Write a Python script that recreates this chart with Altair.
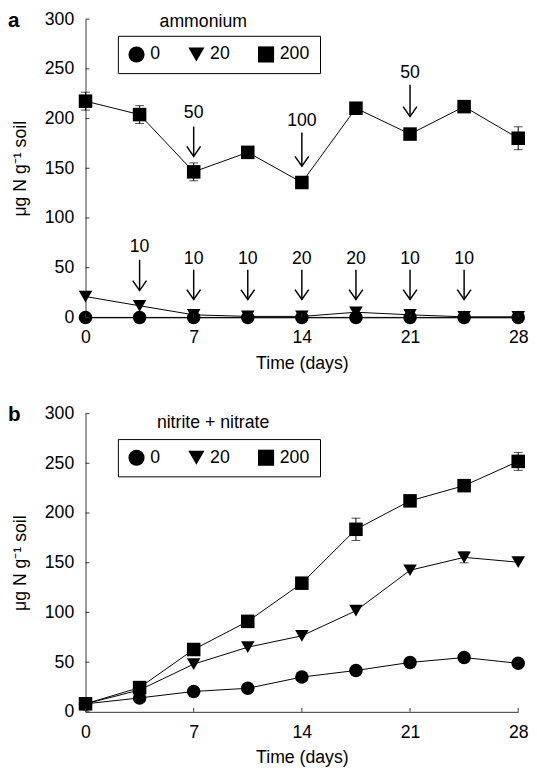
import altair as alt
import pandas as pd

# ---------------- data ----------------
days = [0, 3.5, 7, 10.5, 14, 17.5, 21, 24.5, 28]
treatments = ["0", "20", "200"]
x_ticks = [0, 7, 14, 21, 28]
y_ticks = [0, 50, 100, 150, 200, 250, 300]

# panel a: ammonium
amm_0 = [0, 0, 0, 0, 0, 0, 0, 0, 0]
amm_20 = [21, 11.7, 2.6, 1.0, 1.0, 5.2, 2.6, 0.6, 0.6]
amm_200 = [217.5, 204, 146.4, 166, 135.7, 210.4, 184.4, 212, 180.2]
amm_0_err = [0, 0, 0, 0, 0, 0, 0, 0, 0]
amm_20_err = [0, 0, 0, 0, 0, 0, 0, 0, 0]
amm_200_err = [9, 9, 9, 0, 0, 0, 0, 0, 11.5]

# panel b: nitrite + nitrate
nox_0 = [8, 14, 20.5, 23.7, 35, 41.6, 49.7, 54.6, 48.8]
nox_20 = [8, 22, 48, 65, 76.5, 101.7, 142.4, 155.4, 150.5]
nox_200 = [8.1, 24.4, 62.7, 91, 129.4, 183.6, 212.2, 227.5, 251.9]
nox_0_err = [0, 0, 0, 0, 0, 0, 0, 0, 0]
nox_20_err = [0, 0, 0, 0, 0, 0, 0, 5.5, 0]
nox_200_err = [0, 0, 0, 0, 0, 11.2, 0, 0, 9]

# ammonium additions (arrows in panel a)
arrow_days = [3.5, 7, 10.5, 14, 17.5, 21, 24.5, 7, 14, 21]
arrow_labels = ["10", "10", "10", "20", "20", "10", "10", "50", "100", "50"]
arrow_text = [71, 59, 59, 59, 59, 59, 59, 206, 197, 246]
arrow_top = [58, 48, 48, 48, 48, 48, 48, 192, 186, 234]
arrow_tip = [27, 18, 18, 18, 18, 18, 18, 162, 152, 202]

# ---------------- chart ----------------
FONT = "Liberation Sans"
W, H = 441, 304
Y_TITLE = "\u03bcg N g\u207b\u00b9 soil"
ARROW_HEAD = "M-1,-1.45L0,0L1,-1.45"


def X(field):
    return alt.X(field, type="quantitative",
                 scale=alt.Scale(domain=[0, 28], nice=False, zero=False),
                 axis=alt.Axis(values=x_ticks, title="Time (days)", labelFlush=False))


def Y(field):
    return alt.Y(field, type="quantitative",
                 scale=alt.Scale(domain=[0, 300], nice=False),
                 axis=alt.Axis(values=y_ticks, title=Y_TITLE, labelFlush=False))


def panel(series, errors, legend_title, letter, lx, ly, tx, ty, arrows=False):
    rows, erows, crows = [], [], []
    for t, vals, errs in zip(treatments, series, errors):
        for d, v, e in zip(days, vals, errs):
            rows.append({"day": d, "value": v, "treatment": t})
            if e > 0:
                erows.append({"day": d, "value": v - e, "value2": v + e})
                crows.append({"day": d, "value": v - e})
                crows.append({"day": d, "value": v + e})
    df = pd.DataFrame(rows)
    edf = pd.DataFrame(erows)
    cdf = pd.DataFrame(crows)

    base = alt.Chart(df)
    line = base.mark_line(color="black", strokeWidth=1).encode(
        x=X("day"), y=Y("value"), detail="treatment:N")
    ebar = alt.Chart(edf).mark_rule(color="black", strokeWidth=1).encode(
        x=X("day"), y=Y("value"), y2=alt.Y2("value2"))
    caps = alt.Chart(cdf).mark_tick(color="black", orient="horizontal",
                                    size=9, thickness=1).encode(
        x=X("day"), y=Y("value"))
    pts = base.mark_point(filled=True, opacity=1, color="black", size=190).encode(
        x=X("day"), y=Y("value"),
        shape=alt.Shape("treatment:N",
                        scale=alt.Scale(domain=treatments,
                                        range=["circle", "triangle-down", "square"]),
                        legend=alt.Legend(orient="none", legendX=lx, legendY=ly,
                                          direction="horizontal", title=None,
                                          strokeColor="black", fillColor="white",
                                          padding=10, symbolSize=270,
                                          symbolFillColor="black",
                                          symbolStrokeColor="black",
                                          symbolStrokeWidth=0,
                                          labelFont=FONT, labelFontSize=18,
                                          labelColor="black",
                                          columnPadding=27, labelOffset=5)))

    # inward axis ticks
    xt = alt.Chart(pd.DataFrame({"day": x_ticks})).mark_rule(
        color="#333", strokeWidth=1).encode(
        x=X("day"), y=alt.value(H), y2=alt.value(H - 4))
    yt = alt.Chart(pd.DataFrame({"value": y_ticks})).mark_rule(
        color="#333", strokeWidth=1).encode(
        y=Y("value"), x=alt.value(0), x2=alt.value(4))

    one = pd.DataFrame({"t": [legend_title], "l": [letter]})
    ltitle = alt.Chart(one).mark_text(font=FONT, fontSize=18, color="black",
                                      align="center", baseline="middle").encode(
        text="t:N", x=alt.value(tx), y=alt.value(ty))
    letter_t = alt.Chart(one).mark_text(font=FONT, fontSize=21, fontWeight="bold",
                                        color="black", align="left",
                                        baseline="middle").encode(
        text="l:N", x=alt.value(-79), y=alt.value(2))

    layers = [line, ebar, caps, pts, xt, yt, ltitle, letter_t]

    if arrows:
        adf = pd.DataFrame({"day": arrow_days, "label": arrow_labels,
                            "value": arrow_text, "top": arrow_top,
                            "tip": arrow_tip})
        ab = alt.Chart(adf)
        shaft = ab.mark_rule(color="black", strokeWidth=1.5).encode(
            x=X("day"), y=Y("top"), y2=alt.Y2("tip"))
        head = ab.mark_point(shape=ARROW_HEAD, size=196, filled=False,
                             color="black", strokeWidth=1.5, opacity=1).encode(
            x=X("day"), y=Y("tip"))
        txt = ab.mark_text(font=FONT, fontSize=18, color="black",
                           baseline="middle").encode(
            x=X("day"), y=Y("value"), text="label:N")
        layers += [shaft, head, txt]

    return alt.layer(*layers).properties(width=W, height=H)


pa = panel([amm_0, amm_20, amm_200], [amm_0_err, amm_20_err, amm_200_err],
           "ammonium", "a", lx=33, ly=17, tx=120, ty=3, arrows=True)
pb = panel([nox_0, nox_20, nox_200], [nox_0_err, nox_20_err, nox_200_err],
           "nitrite + nitrate", "b", lx=33, ly=26, tx=130, ty=10)

chart = alt.vconcat(pa, pb, spacing=33).resolve_scale(
    shape="independent").resolve_legend(
    shape="independent").properties(
    padding={"left": 0, "top": -5, "right": 0, "bottom": 0}
).configure_view(stroke=None).configure_axis(
    grid=False, ticks=False, tickSize=0, domainColor="#333", domainWidth=1,
    labelFont=FONT, labelFontSize=18, labelColor="black",
    titleFont=FONT, titleFontSize=18, titleFontWeight="normal", titleColor="black"
).configure_axisX(labelPadding=12, titlePadding=8).configure_axisY(
    labelPadding=12, titlePadding=15)

chart.save("out.html", embed_options={"renderer": "svg", "actions": False})
